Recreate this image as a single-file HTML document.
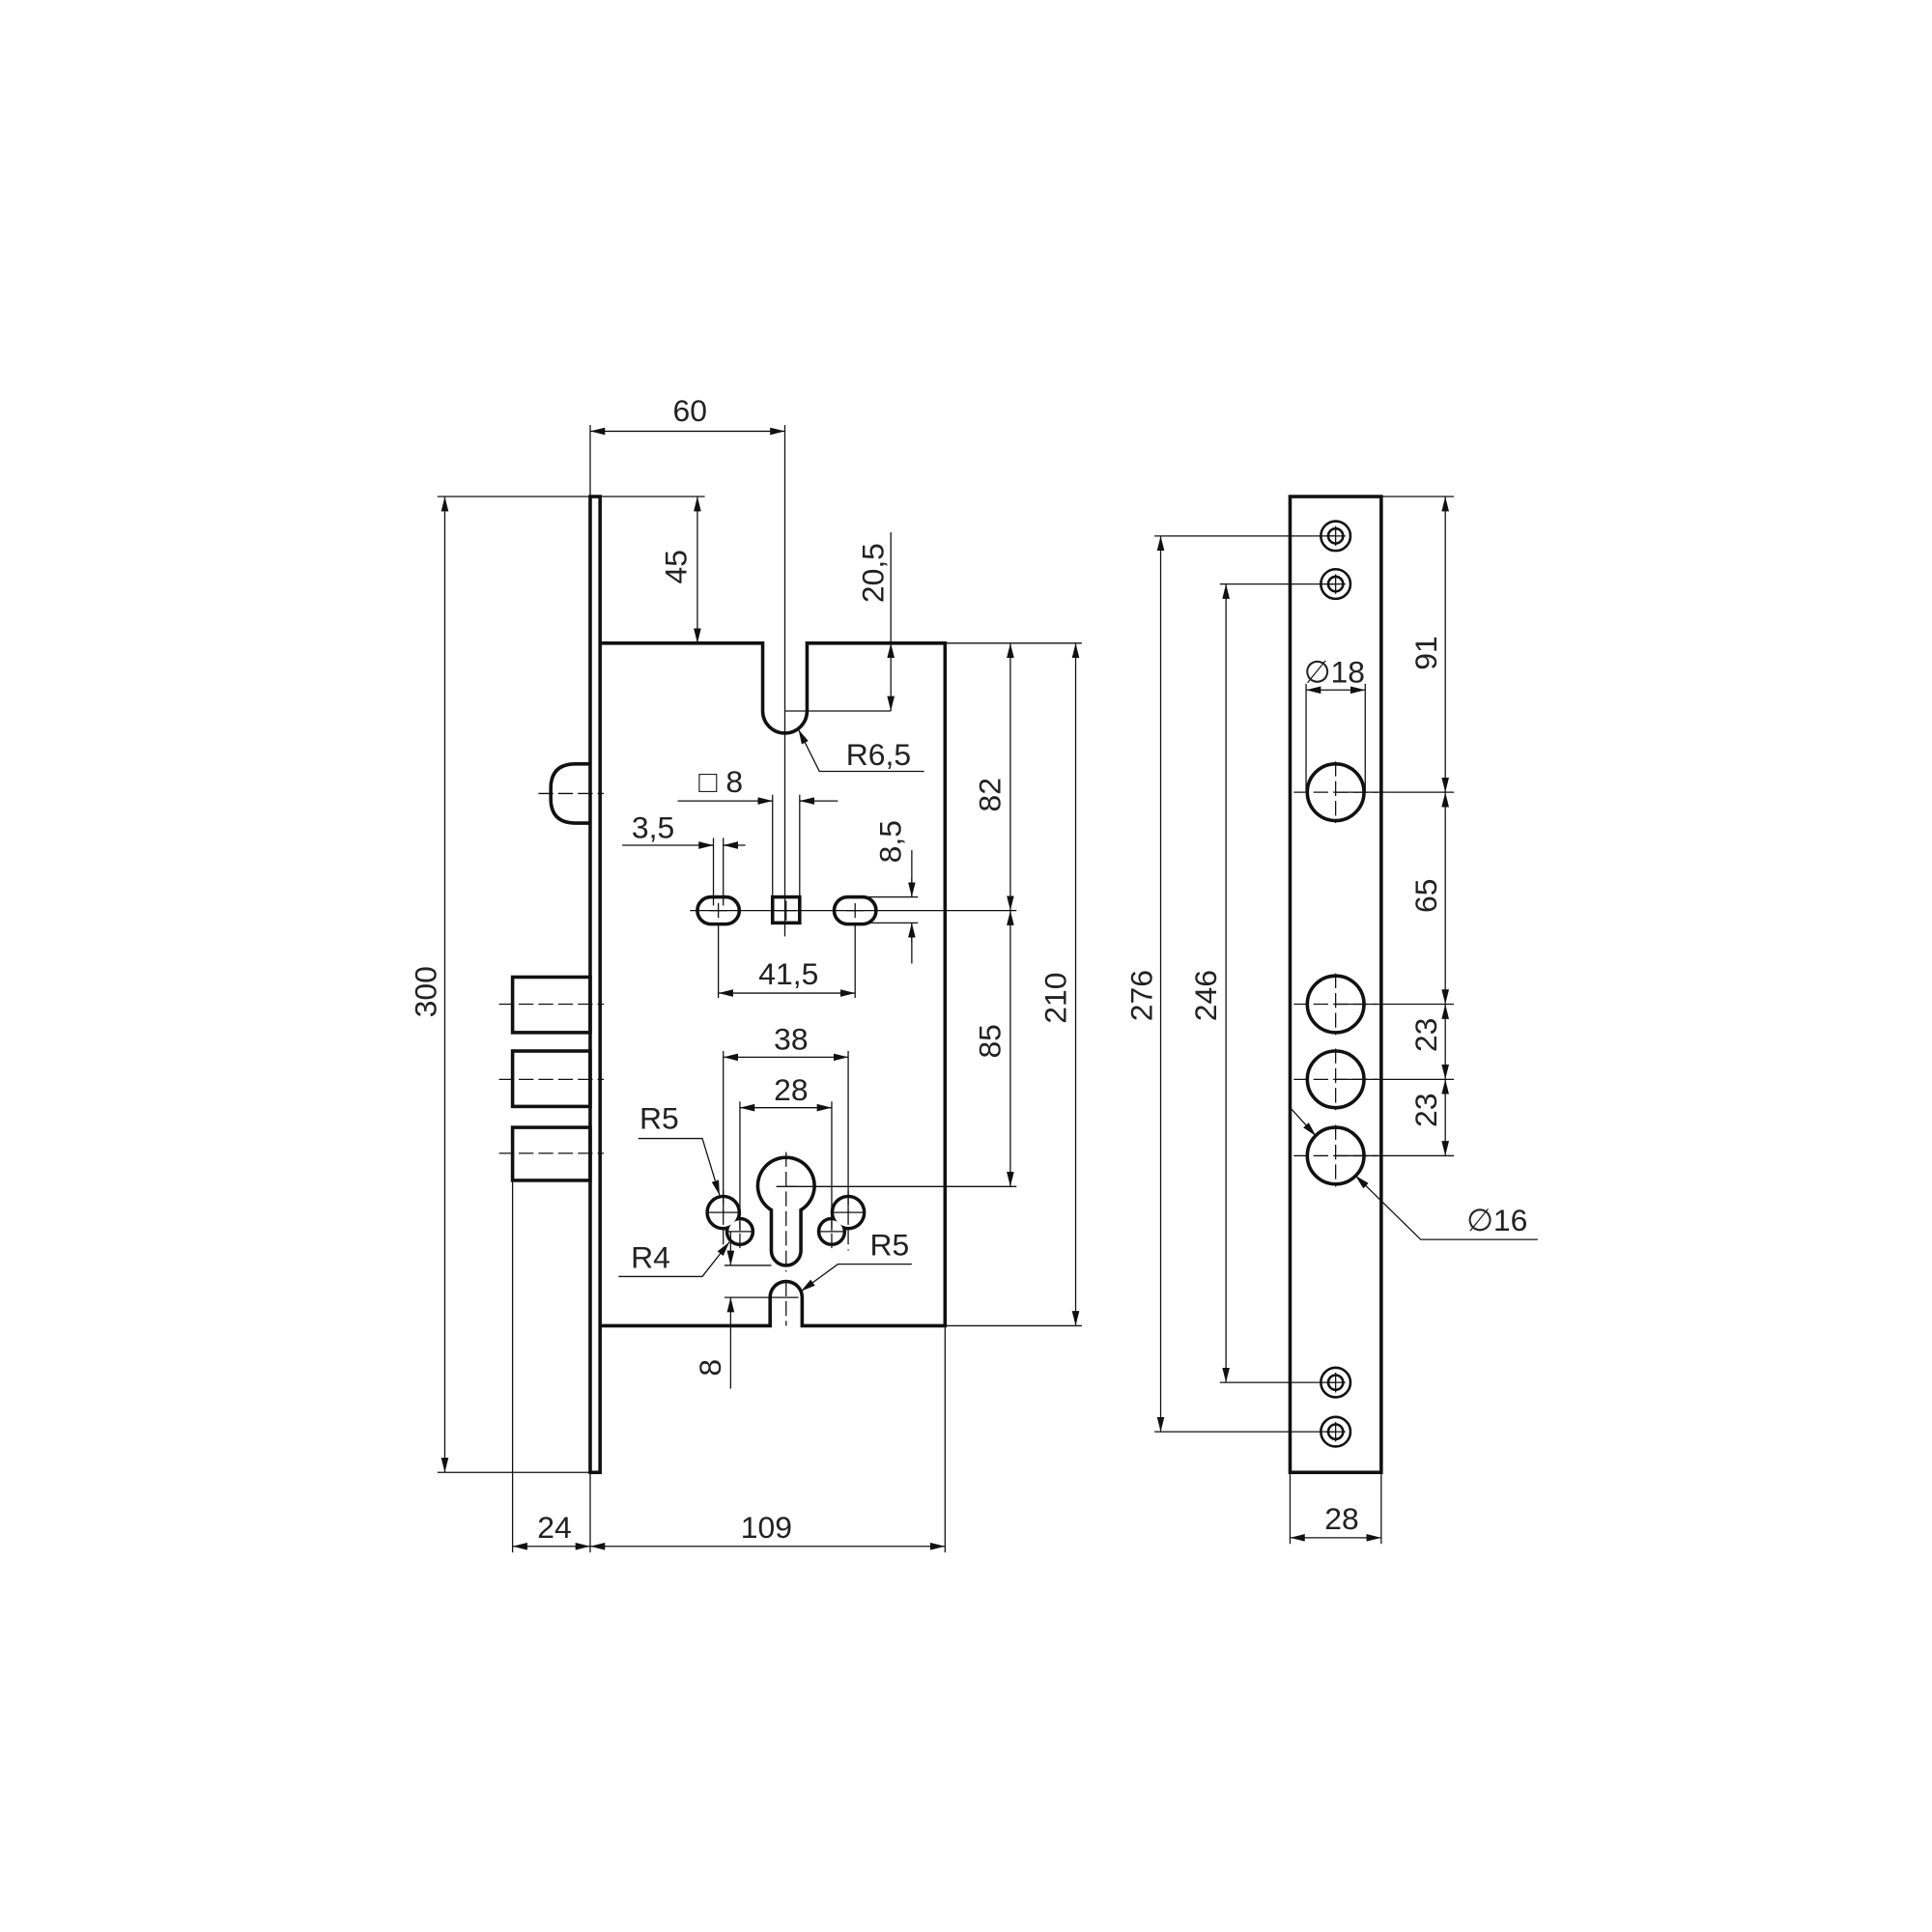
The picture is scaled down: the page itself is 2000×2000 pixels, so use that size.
<!DOCTYPE html>
<html><head><meta charset="utf-8"><style>
html,body{margin:0;padding:0;background:#fff}
svg{display:block}
text{font-family:"Liberation Sans",sans-serif;font-size:25px;fill:#222}
</style></head><body>
<svg width="2000" height="2000" viewBox="0 0 1568 1568" xmlns="http://www.w3.org/2000/svg">
<defs>
<marker id="a" viewBox="0 0 12 6" refX="12" refY="3" markerWidth="12" markerHeight="6" markerUnits="userSpaceOnUse" orient="auto-start-reverse"><path d="M0,0 L12,3 L0,6 z" fill="#111"/></marker>
</defs>
<g fill="none" stroke="#111" stroke-width="2.8">
<rect x="479" y="403" width="8" height="792"/>
<path d="M487,522 H619 V577 A18,18 0 0 0 655,577 V522 H767 V1076 H651 V1053 A13,13 0 0 0 625,1053 V1076 H487"/>
<path d="M479,620 H467 Q447,620 447,640 V648 Q447,668 467,668 H479"/>
<rect x="416" y="793" width="63" height="45"/>
<rect x="416" y="853" width="63" height="45"/>
<rect x="416" y="915" width="63" height="43"/>
<rect x="627" y="728" width="22" height="21"/>
<rect x="566" y="728" width="34" height="22" rx="11"/>
<rect x="677" y="728" width="34" height="22" rx="11"/>
<path d="M626,1015 V982 A23,23 0 1 1 650,982 V1015 A12,12 0 0 1 626,1015 Z"/>
<circle cx="587" cy="984" r="13"/><circle cx="600.5" cy="999.5" r="10.5"/>
<circle cx="688.4" cy="984" r="13"/><circle cx="675" cy="999.5" r="10.5"/>
</g>
<g fill="#fff" stroke="none">
<circle cx="587" cy="984" r="11.6"/><circle cx="600.5" cy="999.5" r="9.1"/>
<circle cx="688.4" cy="984" r="11.6"/><circle cx="675" cy="999.5" r="9.1"/>
</g>
<g fill="none" stroke="#111" stroke-width="2.8">
<rect x="1047" y="403" width="74" height="792"/>
<circle cx="1084" cy="643" r="23"/><circle cx="1084" cy="815" r="23"/><circle cx="1084" cy="876" r="23"/><circle cx="1084" cy="938" r="23"/>
<g stroke-width="2">
<circle cx="1084" cy="435" r="12"/><circle cx="1084" cy="435" r="6"/>
<circle cx="1084" cy="474" r="12"/><circle cx="1084" cy="474" r="6"/>
<circle cx="1084" cy="1122" r="12"/><circle cx="1084" cy="1122" r="6"/>
<circle cx="1084" cy="1162" r="12"/><circle cx="1084" cy="1162" r="6"/>
</g>
</g>
<g fill="none" stroke="#111" stroke-width="1" stroke-dasharray="12,4">
<path d="M437,644 H490 M405,815 H490 M405,876 H490 M405,936 H490"/>
<path d="M1050,643 H1118 M1050,815 H1118 M1050,876 H1118 M1050,938 H1118"/>
<path d="M1084,618 V668 M1084,790 V840 M1084,851 V901 M1084,913 V963"/>
<path d="M638,935 V1032 M638,1040 V1076 M587,966 V1015 M688.4,966 V1015 M600.5,985 V1015 M675,985 V1015"/>
</g>
<g fill="none" stroke="#111" stroke-width="1">
<path d="M630,739 H646 M638,731 V747 M576,739 H590 M583,733 V745 M687,739 H701 M694,733 V745 M574,984 H600 M676,984 H702 M590,999.5 H612 M664,999.5 H686 M630,963 H646 M628,1053 H648"/>
<path d="M1076,435 H1092 M1084,427 V443 M1076,474 H1092 M1084,466 V482 M1076,1122 H1092 M1084,1114 V1130 M1076,1162 H1092 M1084,1154 V1170"/>
<path d="M479,345 V403 M637,345 V760 M487,403 H572 M355,403 H487 M355,1195 H487"/>
<path d="M479,350 H637" marker-start="url(#a)" marker-end="url(#a)"/>
<path d="M566,403 V522" marker-start="url(#a)" marker-end="url(#a)"/>
<path d="M723,432 V522 M723,577 H637"/>
<path d="M723,522 V577" marker-start="url(#a)" marker-end="url(#a)"/>
<path d="M750,626 H665 L648,592" marker-end="url(#a)"/>
<path d="M550,650 H627 M649,650 H680 M627,645 V728 M649,645 V728"/>
<path d="M615,650 H627" marker-end="url(#a)"/><path d="M661,650 H649" marker-end="url(#a)"/>
<path d="M505,686 H579 M587,686 H605 M579,680 V735 M587,680 V735"/>
<path d="M567,686 H579" marker-end="url(#a)"/><path d="M599,686 H587" marker-end="url(#a)"/>
<path d="M705,728 H745 M705,749 H745 M740,690 V728 M740,749 V782"/>
<path d="M740,712 V728" marker-end="url(#a)"/><path d="M740,765 V749" marker-end="url(#a)"/>
<path d="M560,739 H825"/>
<path d="M583,750 V810 M694,750 V810"/>
<path d="M583,806 H694" marker-start="url(#a)" marker-end="url(#a)"/>
<path d="M767,522 H878 M767,1076 H878 M638,963 H825"/>
<path d="M820,522 V739" marker-start="url(#a)" marker-end="url(#a)"/>
<path d="M820,739 V963" marker-start="url(#a)" marker-end="url(#a)"/>
<path d="M873,522 V1076" marker-start="url(#a)" marker-end="url(#a)"/>
<path d="M587,853 V984 M688.4,853 V984 M600.5,894 V999 M675,894 V999"/>
<path d="M587,858 H688.4" marker-start="url(#a)" marker-end="url(#a)"/>
<path d="M600.5,899 H675" marker-start="url(#a)" marker-end="url(#a)"/>
<path d="M518,924 H570 L584,970" marker-end="url(#a)"/>
<path d="M502,1036 H570 L592,1008" marker-end="url(#a)"/>
<path d="M740,1026 H680 L650,1048" marker-end="url(#a)"/>
<path d="M588,1053 H628 M588,1027 H626"/>
<path d="M593,1000 V1027" marker-end="url(#a)"/><path d="M593,1127 V1053" marker-end="url(#a)"/>
<path d="M361,403 V1195" marker-start="url(#a)" marker-end="url(#a)"/>
<path d="M416,958 V1260 M479,1195 V1260 M767,1076 V1260"/>
<path d="M416,1255 H479" marker-start="url(#a)" marker-end="url(#a)"/>
<path d="M479,1255 H767" marker-start="url(#a)" marker-end="url(#a)"/>
<path d="M937,435 H1084 M937,1162 H1084 M990,474 H1084 M990,1122 H1084"/>
<path d="M942,435 V1162" marker-start="url(#a)" marker-end="url(#a)"/>
<path d="M995,474 V1122" marker-start="url(#a)" marker-end="url(#a)"/>
<path d="M1121,403 H1180 M1084,643 H1180 M1084,815 H1180 M1084,876 H1180 M1084,938 H1180"/>
<path d="M1173,403 V643" marker-start="url(#a)" marker-end="url(#a)"/>
<path d="M1173,643 V815" marker-start="url(#a)" marker-end="url(#a)"/>
<path d="M1173,815 V876" marker-start="url(#a)" marker-end="url(#a)"/>
<path d="M1173,876 V938" marker-start="url(#a)" marker-end="url(#a)"/>
<path d="M1060,555 V643 M1108,555 V643"/>
<path d="M1060,560 H1108" marker-start="url(#a)" marker-end="url(#a)"/>
<path d="M1048,900 L1068,922" marker-end="url(#a)"/>
<path d="M1248,1006 H1153 L1100,954" marker-end="url(#a)"/>
<path d="M1047,1195 V1253 M1121,1195 V1253"/>
<path d="M1047,1248 H1121" marker-start="url(#a)" marker-end="url(#a)"/>
</g>
<g>
<text x="560" y="342" text-anchor="middle">60</text>
<text transform="translate(557,460) rotate(-90)" text-anchor="middle">45</text>
<text transform="translate(717,465) rotate(-90)" text-anchor="middle">20,5</text>
<text x="713" y="621" text-anchor="middle">R6,5</text>
<text x="585" y="643" text-anchor="middle">□ 8</text>
<text x="530" y="680" text-anchor="middle">3,5</text>
<text transform="translate(731,683) rotate(-90)" text-anchor="middle">8,5</text>
<text x="640" y="799" text-anchor="middle">41,5</text>
<text transform="translate(812,645) rotate(-90)" text-anchor="middle">82</text>
<text transform="translate(812,845) rotate(-90)" text-anchor="middle">85</text>
<text transform="translate(865,810) rotate(-90)" text-anchor="middle">210</text>
<text x="642" y="852" text-anchor="middle">38</text>
<text x="642" y="893" text-anchor="middle">28</text>
<text x="535" y="916" text-anchor="middle">R5</text>
<text x="528" y="1029" text-anchor="middle">R4</text>
<text x="722" y="1019" text-anchor="middle">R5</text>
<text transform="translate(585,1110) rotate(-90)" text-anchor="middle">8</text>
<text transform="translate(354,805) rotate(-90)" text-anchor="middle">300</text>
<text x="450" y="1248" text-anchor="middle">24</text>
<text x="622" y="1248" text-anchor="middle">109</text>
<text transform="translate(935,808) rotate(-90)" text-anchor="middle">276</text>
<text transform="translate(987,808) rotate(-90)" text-anchor="middle">246</text>
<text transform="translate(1166,530) rotate(-90)" text-anchor="middle">91</text>
<text transform="translate(1166,727) rotate(-90)" text-anchor="middle">65</text>
<text transform="translate(1166,840) rotate(-90)" text-anchor="middle">23</text>
<text transform="translate(1166,901) rotate(-90)" text-anchor="middle">23</text>
<text x="1083" y="554" text-anchor="middle">∅18</text>
<text x="1215" y="999" text-anchor="middle">∅16</text>
<text x="1089" y="1241" text-anchor="middle">28</text>
</g>
</svg>
</body></html>
